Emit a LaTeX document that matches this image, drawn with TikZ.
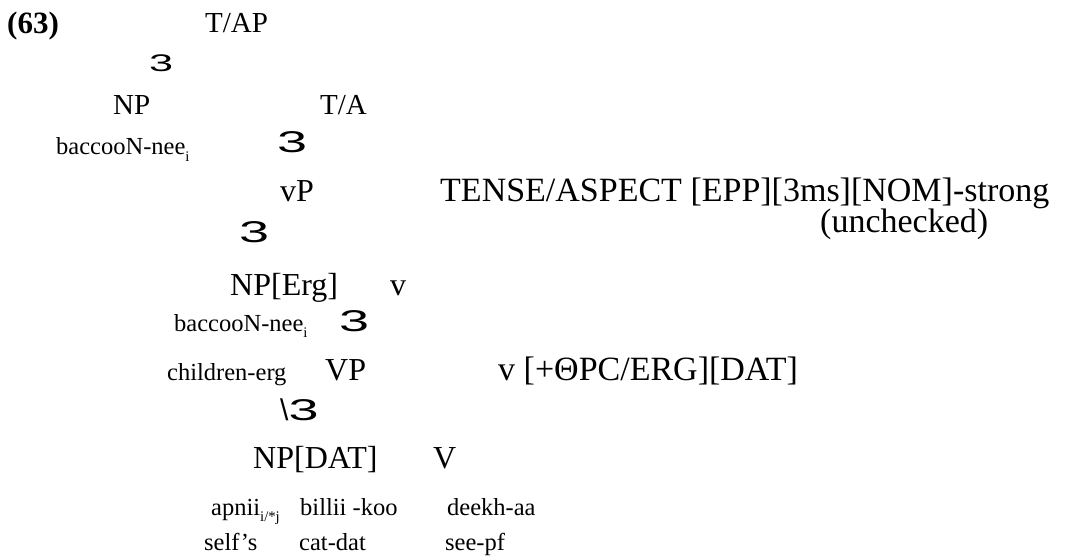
\documentclass[tikz,border=0pt]{standalone}
\usepackage{fontspec}
\setmainfont{Liberation Serif}
\setsansfont{Liberation Sans}
\usepackage{graphicx}
\newcommand{\idx}[1]{\raisebox{-0.25em}{\scalebox{0.6}{#1}}}
\newcommand{\brch}{\scalebox{1.8}[1]{3}}

\begin{document}
\begin{tikzpicture}[
  x=1pt, y=-1pt,
  every node/.style={inner sep=0pt, anchor=base west},
  num/.style={font=\fontsize{31}{31}\selectfont\bfseries},
  top/.style={font=\fontsize{29}{29}\selectfont},
  cat/.style={font=\fontsize{32}{32}\selectfont},
  feat/.style={font=\fontsize{34}{34}\selectfont},
  gloss/.style={font=\fontsize{24.5}{24.5}\selectfont},
  branch/.style={font=\fontsize{30}{30}\sffamily},
  smallbranch/.style={font=\fontsize{24}{24}\sffamily}
]
\useasboundingbox (0,0) rectangle (1066,556);
% top of the tree
\node[num] (ex) at (7,34) {(63)};
\node[top] (tap) at (205,33) {T/AP};
\node[smallbranch] (b1) at (149,72) {\brch};
\node[top] (np1) at (113,115) {NP};
\node[top] (ta) at (320,115) {T/A};
\node[gloss] (subj1) at (56,155) {baccooN-nee\idx{i}};
\node[branch] (b2) at (277,153) {\brch};
% vP level
\node[cat] (vp1) at (280,202) {vP};
\node[feat] (tense) at (440,202) {TENSE/ASPECT [EPP][3ms][NOM]-strong};
\node[branch] (b3) at (239,243) {\brch};
\node[feat] (unchk) at (820,233) {(unchecked)};
\node[cat] (nperg) at (230,295) {NP[Erg]};
\node[cat] (vsmall) at (390,295) {v};
\node[gloss] (subj2) at (174,331) {baccooN-nee\idx{i}};
\node[branch] (b4) at (339,331) {\brch};
% VP level
\node[gloss] (child) at (167,380) {children-erg};
\node[cat] (VP) at (325,380) {VP};
\node[feat] (vfeat) at (498,380) {v [+ΘPC/ERG][DAT]};
\node[branch] (b5) at (280,420) {\textbackslash\brch};
\node[cat] (npdat) at (253,468) {NP[DAT]};
\node[cat] (Vbig) at (433,468) {V};
% words and glosses
\node[gloss] (obj) at (211,515) {apnii\idx{i/*j}};
\node[gloss] (cat) at (300,515) {billii -koo};
\node[gloss] (verb) at (447,515) {deekh-aa};
\node[gloss] (g1) at (204,550) {self's};
\node[gloss] (g2) at (299,550) {cat-dat};
\node[gloss] (g3) at (445,550) {see-pf};
\end{tikzpicture}
\end{document}
